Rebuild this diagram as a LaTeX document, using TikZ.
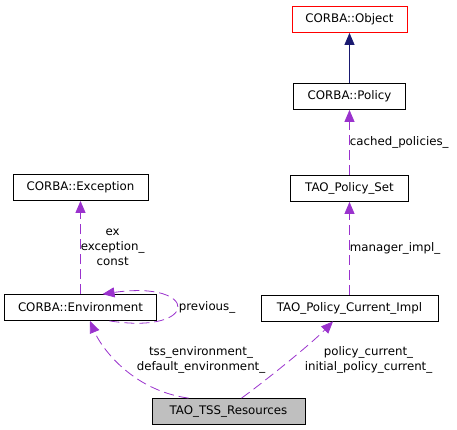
\documentclass[tikz,border=0pt]{standalone}
\usepackage{fontspec}
\setmainfont{DejaVu Sans}
\usepackage{xcolor}
\usepackage{tikz}
\usetikzlibrary{arrows.meta}
\definecolor{usepurple}{HTML}{9A32CD}
\definecolor{inheritblue}{HTML}{191970}
\definecolor{boxgray}{HTML}{BFBFBF}

\begin{document}
\begin{tikzpicture}[x=1pt,y=-1pt,line width=0.8pt,
    cls/.style={draw=black,fill=white,minimum height=26pt,inner sep=0pt,
        font=\fontsize{11.8}{15}\selectfont},
    lbl/.style={inner sep=0pt,align=center,font=\fontsize{11.8}{15}\selectfont},
    uses/.style={draw=usepurple,dash pattern=on 10pt off 5pt,
        -{Triangle[length=12pt,width=10pt,fill=usepurple]}},
    inherit/.style={draw=inheritblue,
        -{Triangle[length=12pt,width=10pt,fill=inheritblue]}}]
    \useasboundingbox (0,0) rectangle (457,429);

    % Draw classes
    \node[cls,draw=red,minimum width=115pt] (obj) at (349.5,19.5) {CORBA::Object};
    \node[cls,minimum width=112pt] (policy) at (349.5,96.5) {CORBA::Policy};
    \node[cls,minimum width=118pt] (pset) at (349.5,188.5) {TAO\_Policy\_Set};
    \node[cls,minimum width=135pt] (exc) at (80.5,187.5) {CORBA::Exception};
    \node[cls,minimum width=152pt] (env) at (80.5,307.5) {CORBA::Environment};
    \node[cls,minimum width=177pt] (pci) at (349.5,308) {TAO\_Policy\_Current\_Impl};
    \node[cls,fill=boxgray,minimum width=153pt] (tss) at (228.5,411.5) {TAO\_TSS\_Resources};

    % Draw edges
    \draw[inherit] (policy) -- (obj);
    \draw[uses] (pset) -- node[lbl,anchor=west] {cached\_policies\_} (policy);
    \draw[uses] (pci) -- node[lbl,anchor=west] {manager\_impl\_} (pset);
    \draw[uses] (env) -- node[lbl,anchor=west] {ex\\exception\_\\const} (exc);
    \draw[uses] ([xshift=29pt]env.south) .. controls (200,335) and (200,280)
        .. node[lbl,anchor=west,xshift=2pt] {previous\_} ([xshift=22pt]env.north);
    \draw[uses] ([xshift=-40pt]tss.north) .. controls (130,390) and (100,345)
        .. ([xshift=9.5pt]env.south);
    \draw[uses] ([xshift=13pt]tss.north) .. controls (260,385) and (310,345)
        .. ([xshift=-16.5pt]pci.south);
    \node[lbl] (envlbl) at (201,359.5) {tss\_environment\_\\default\_environment\_};
    \node[lbl] (pcilbl) at (368.5,359.5) {policy\_current\_\\initial\_policy\_current\_};
\end{tikzpicture}
\end{document}
